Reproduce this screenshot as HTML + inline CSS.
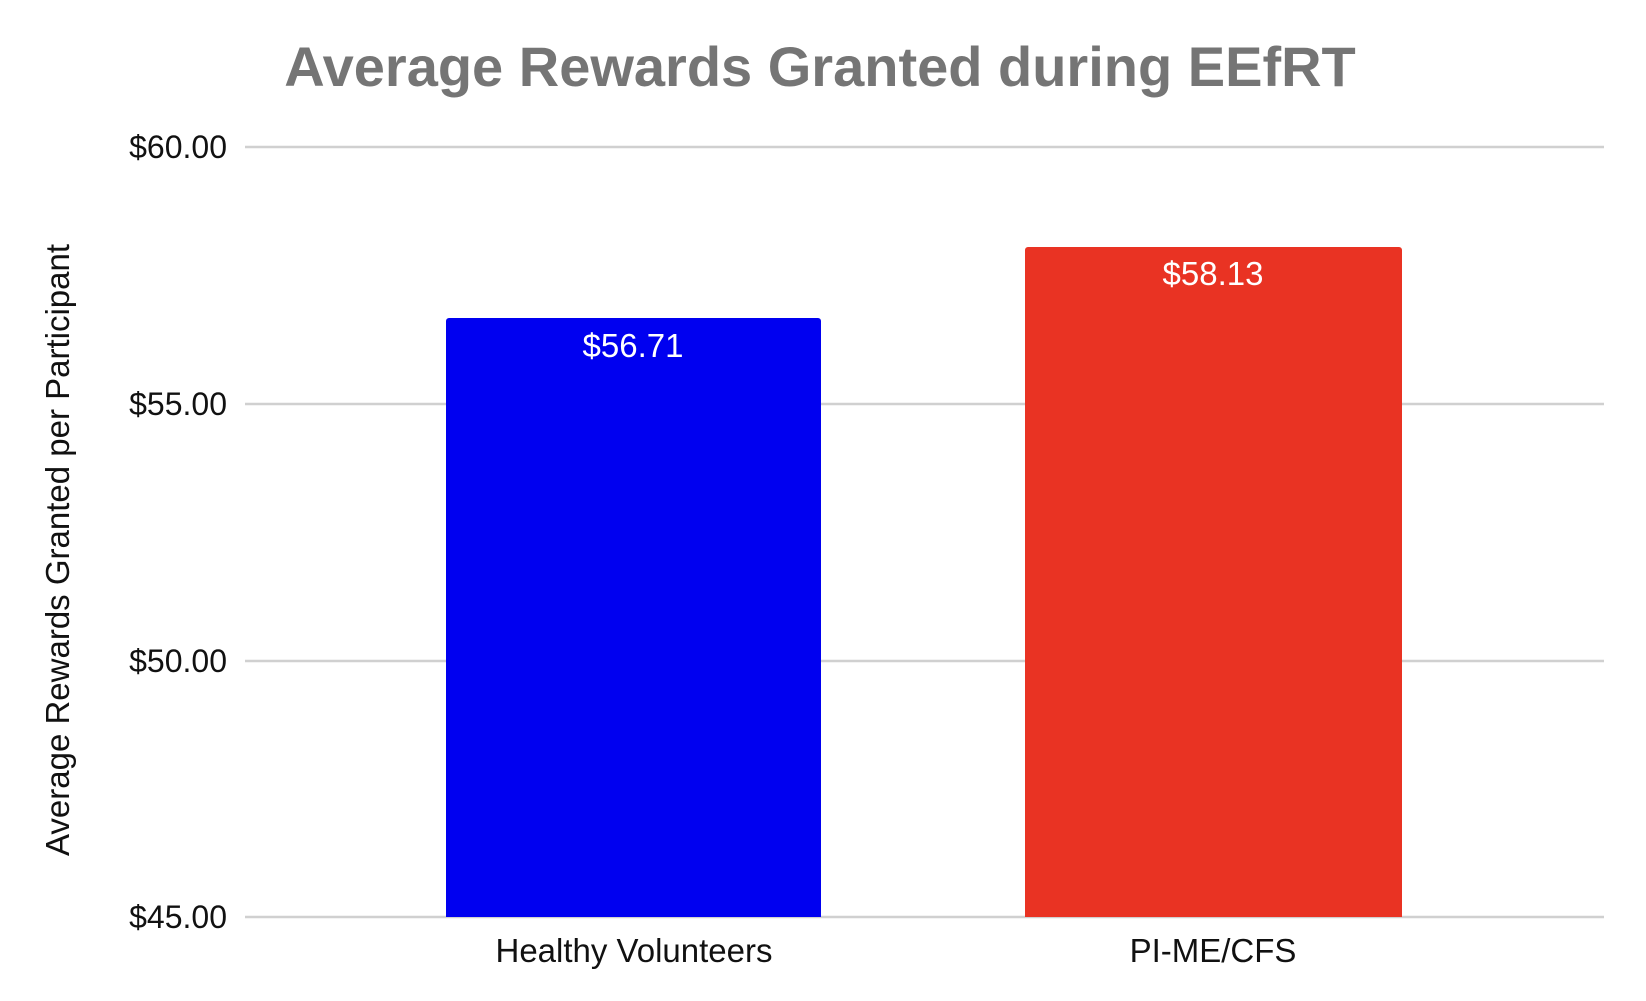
<!DOCTYPE html>
<html><head><style>body{margin:0;background:#fff}</style></head><body>
<svg width="1646" height="996" xmlns="http://www.w3.org/2000/svg" font-family="Liberation Sans, Arial, sans-serif">
<rect width="1646" height="996" fill="#fff"/>
<text x="820" y="86" text-anchor="middle" font-size="56" font-weight="bold" fill="#757575">Average Rewards Granted during EEfRT</text>
<g stroke="#d0d0d0" stroke-width="2.5">
<line x1="245" x2="1604" y1="147" y2="147"/>
<line x1="245" x2="1604" y1="404" y2="404"/>
<line x1="245" x2="1604" y1="661" y2="661"/>
<line x1="245" x2="1604" y1="917" y2="917"/>
</g>
<g font-size="32" fill="#111" text-anchor="end">
<text x="227" y="158">$60.00</text>
<text x="227" y="415">$55.00</text>
<text x="227" y="672">$50.00</text>
<text x="227" y="928">$45.00</text>
</g>
<text transform="translate(69,550) rotate(-90)" text-anchor="middle" font-size="33" fill="#111">Average Rewards Granted per Participant</text>
<path d="M446 917V321a3 3 0 0 1 3-3H818a3 3 0 0 1 3 3V917Z" fill="#0000f0"/>
<path d="M1025 917V250a3 3 0 0 1 3-3H1399a3 3 0 0 1 3 3V917Z" fill="#e93323"/>
<g font-size="33" fill="#fff" text-anchor="middle">
<text x="633" y="357">$56.71</text>
<text x="1213" y="285">$58.13</text>
</g>
<g font-size="33" fill="#111" text-anchor="middle">
<text x="634" y="962">Healthy Volunteers</text>
<text x="1213" y="962">PI-ME/CFS</text>
</g>
</svg>
</body></html>
